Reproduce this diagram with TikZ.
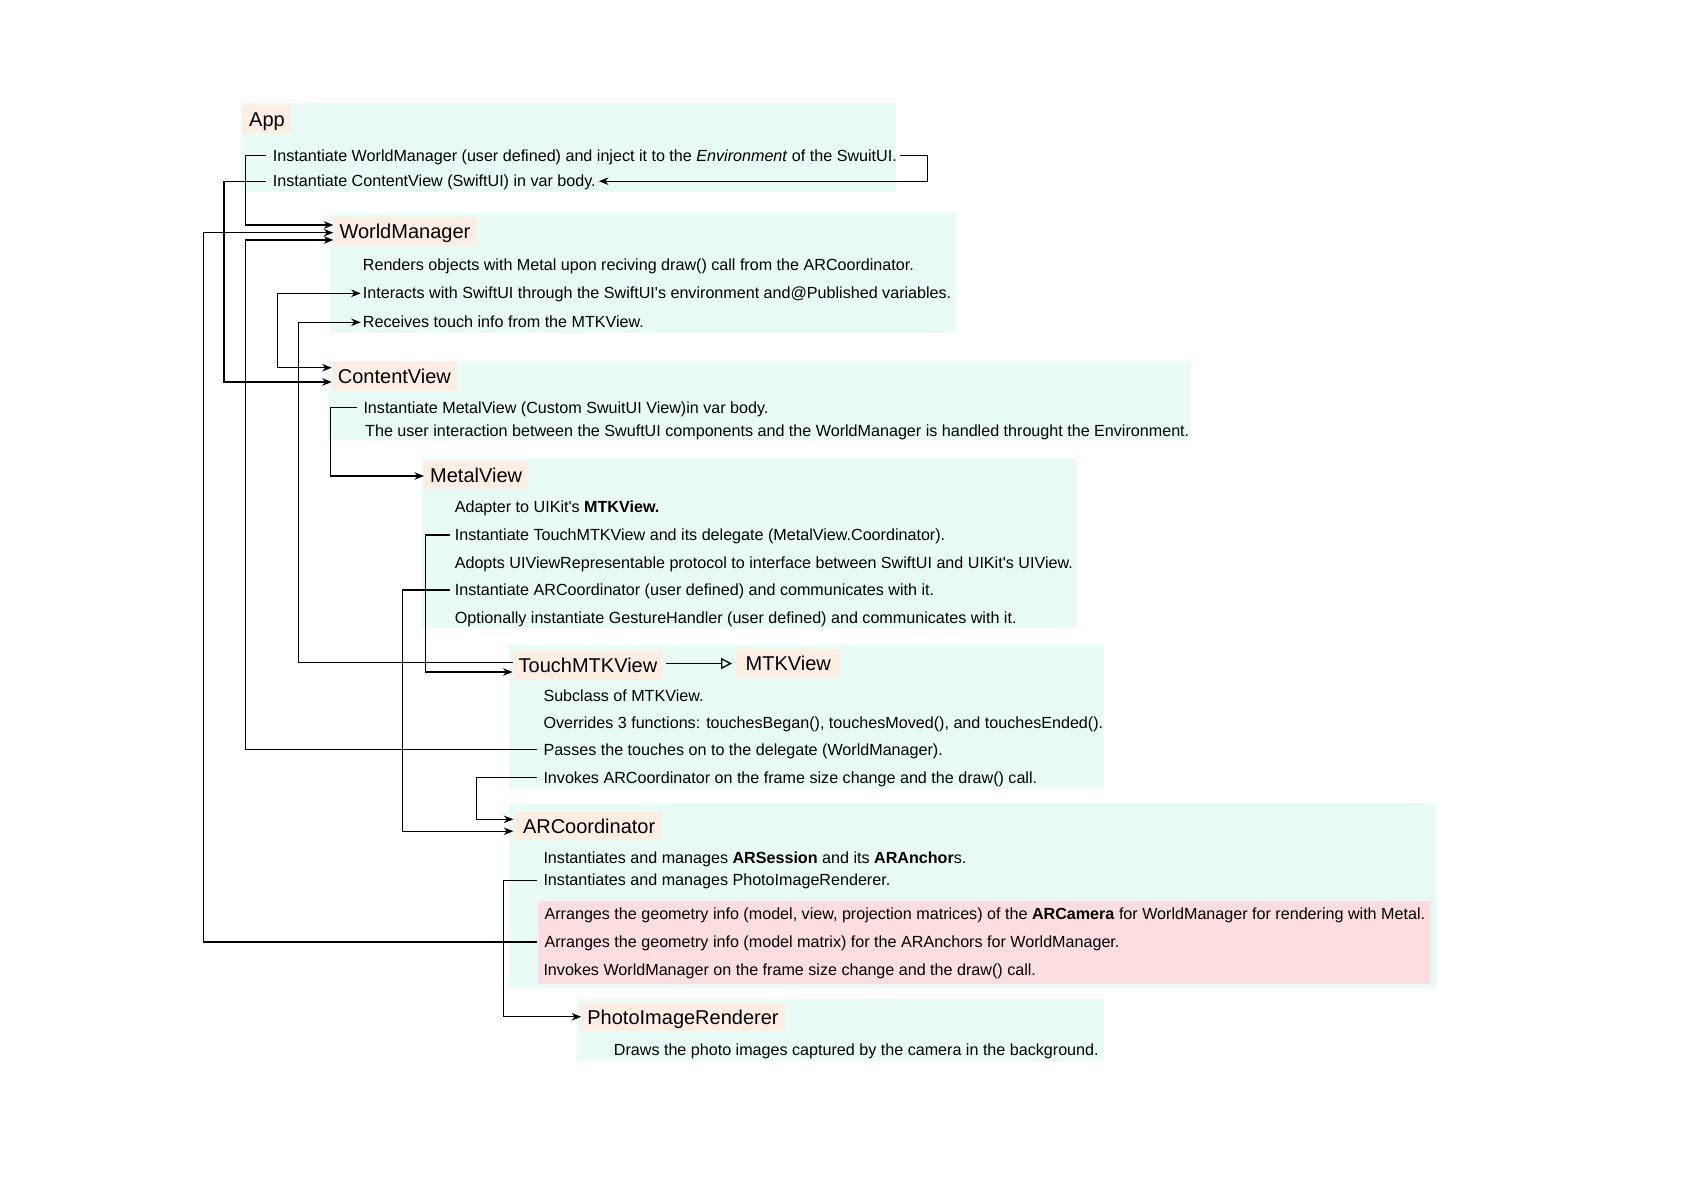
\documentclass[tikz,border=0pt]{standalone}
\usepackage{fontspec}
\setmainfont{Liberation Sans}
\usetikzlibrary{arrows.meta,calc}
\definecolor{greenbg}{RGB}{232,251,244}
\definecolor{peach}{RGB}{252,238,226}
\definecolor{pinkbg}{RGB}{252,222,224}
\begin{document}
\begin{tikzpicture}[x=1pt,y=-1pt,
  body/.style={anchor=west, inner sep=0pt, font=\fontsize{16.12}{19}\selectfont, text height=12pt, text depth=1pt},
  lbl/.style={anchor=west, fill=peach, inner ysep=0pt, inner xsep=6pt, minimum height=28.5pt, font=\fontsize{20}{24}\selectfont, text height=14.5pt, text depth=0pt},
  arr/.style={line width=1.3pt, -{Stealth[length=9.5pt,width=7.5pt,inset=3pt]}},
  dblarr/.style={line width=1.3pt, {Stealth[length=9.5pt,width=7.5pt,inset=3pt]}-{Stealth[length=9.5pt,width=7.5pt,inset=3pt]}},
  tri/.style={line width=1.3pt, -{Triangle[open,length=11pt,width=11pt]}}]
\useasboundingbox (0,0) rectangle (1697,1200);
% background panels
\fill[greenbg] (240.7,102.7) rectangle (896,192.3);
\fill[greenbg] (330,213.3) rectangle (955.7,332.7);
\fill[greenbg] (328.3,361) rectangle (1190.5,440);
\fill[greenbg] (421.7,458.3) rectangle (1077,627.7);
\fill[greenbg] (509,645) rectangle (1104,789.3);
\fill[greenbg] (509,803.3) rectangle (1436,988);
\fill[pinkbg] (537.9,900.5) rectangle (1430.9,983.8);
\fill[greenbg] (576.9,999) rectangle (1104,1060.7);
% labels
\node[lbl] (app) at (243,119.5) {App};
\node[lbl] (wm) at (333.3,231.7) {WorldManager};
\node[lbl] (cv) at (331.7,376.5) {ContentView};
\node[lbl] (mv) at (424,474.8) {MetalView};
\node[lbl] (tm) at (512.5,665.5) {TouchMTKView};
\node[lbl, inner xsep=9.5pt] (mtk) at (736,663.5) {MTKView};
\node[lbl, inner xsep=6pt] (arc) at (513.3,825.8) {\hspace{3.5pt}ARCoordinator};
\node[lbl] (pir) at (581.2,1016.8) {PhotoImageRenderer};
% App
\node[body] (a1) at (272.7,155.5) {Instantiate WorldManager (user defined) and inject it to the \textit{Environment} of the SwuitUI.};
\node[body] (a2) at (272.7,181.2) {Instantiate ContentView (SwiftUI) in var body.};
% WorldManager
\node[body] (w1) at (362.7,265.3) {Renders objects with Metal upon reciving draw() call from the ARCoordinator.};
\node[body] (w2) at (362.7,293.3) {Interacts with SwiftUI through the SwiftUI\textquotesingle s environment and@Published variables.};
\node[body] (w3) at (362.7,322.3) {Receives touch info from the MTKView.};
% ContentView
\node[body] (c1) at (363.3,407.6) {Instantiate MetalView (Custom SwuitUI View)in var body.};
\node[body] (c2) at (365,430.9) {The user interaction between the SwuftUI components and the WorldManager is handled throught the Environment.};
% MetalView
\node[body] (m1) at (454.6,506.8) {Adapter to UIKit\textquotesingle s \textbf{MTKView.}};
\node[body] (m2) at (454.6,534.9) {Instantiate TouchMTKView and its delegate (MetalView.Coordinator).};
\node[body] (m3) at (454.6,563) {Adopts UIViewRepresentable protocol to interface between SwiftUI and UIKit\textquotesingle s UIView.};
\node[body] (m4) at (454.6,590) {Instantiate ARCoordinator (user defined) and communicates with it.};
\node[body] (m5) at (454.6,618.2) {Optionally instantiate GestureHandler (user defined) and communicates with it.};
% TouchMTKView
\node[body] (t1) at (543.3,696) {Subclass of MTKView.};
\node[body] (t2) at (543.3,722.6) {Overrides 3 functions: touchesBegan(), touchesMoved(), and touchesEnded().};
\node[body] (t3) at (543.3,749.6) {Passes the touches on to the delegate (WorldManager).};
\node[body] (t4) at (543.3,777.6) {Invokes ARCoordinator on the frame size change and the draw() call.};
% ARCoordinator
\node[body] (r1) at (543.3,857.6) {Instantiates and manages \textbf{ARSession} and its \textbf{ARAnchor}s.};
\node[body] (r2) at (543.3,880.3) {Instantiates and manages PhotoImageRenderer.};
\node[body] (r3) at (544.4,913.9) {Arranges the geometry info (model, view, projection matrices) of the \textbf{ARCamera} for WorldManager for rendering with Metal.};
\node[body] (r4) at (544.4,941.9) {Arranges the geometry info (model matrix) for the ARAnchors for WorldManager.};
\node[body] (r5) at (543.3,970) {Invokes WorldManager on the frame size change and the draw() call.};
% PhotoImageRenderer
\node[body] (p1) at (613.7,1050.2) {Draws the photo images captured by the camera in the background.};
% connectors
\draw[arr] ([xshift=-6.7pt]a1.west) -- (245.7,155.5) |- ($(wm.west)+(0,-6.7)$);
\draw[arr] ([xshift=3pt]a1.east) -- (927.5,155.5) |- ([xshift=3pt]a2.east);
\draw[arr] ([xshift=-6.7pt]a2.west) -- (224,181.2) |- ($(cv.west)+(0,5.5)$);
\draw[dblarr] ([xshift=-2pt]w2.west) -- (277.3,293.3) |- ($(cv.west)+(0,-8.8)$);
\draw[arr] ($(tm.west)+(0,-3)$) -- (298.3,662.5) |- ([xshift=-2pt]w3.west);
\draw[arr] ([xshift=-6.7pt]t3.west) -- (245.7,749.6) |- ($(wm.west)+(0,8.3)$);
\draw[arr] ([xshift=-6.7pt]t4.west) -- (476.2,777.6) |- ($(arc.west)+(0,-6.5)$);
\draw[arr] ([xshift=-5pt]m2.west) -- (425.3,534.9) |- ($(tm.west)+(0,6.5)$);
\draw[arr] ([xshift=-5pt]m4.west) -- (402.6,590) |- ($(arc.west)+(0,5.4)$);
\draw[arr] ([xshift=-6.7pt]r2.west) -- (503.3,880.3) |- (pir.west);
\draw[arr] ([xshift=-7.7pt]r4.west) -- (203.5,941.9) |- ($(wm.west)+(0,1)$);
\draw[arr] ([xshift=-6.6pt]c1.west) -- (330.7,407.6) |- ($(mv.west)+(0,1.2)$);
\draw[tri] ($(tm.east |- mtk.west)+(3,0)$) -- ([xshift=-4pt]mtk.west);
\end{tikzpicture}
\end{document}
